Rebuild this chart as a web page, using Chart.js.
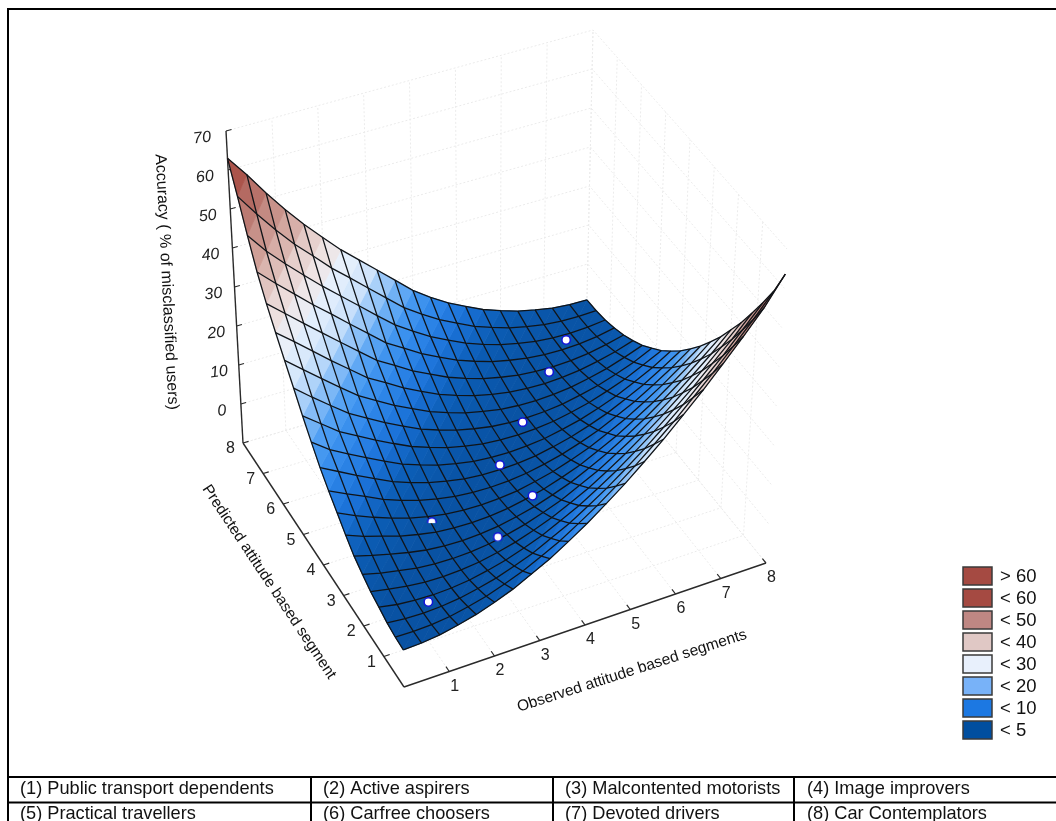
<!DOCTYPE html>
<html><head><meta charset="utf-8">
<style>html,body{margin:0;padding:0;background:#fff;overflow:hidden}canvas{display:block}</style>
<script src="https://cdn.jsdelivr.net/npm/chart.js@4"></script></head>
<body><canvas id="c" width="1056" height="821"></canvas>
<script>
// ---- data ----
const observedTicks = [1,2,3,4,5,6,7,8];
const predictedTicks = [1,2,3,4,5,6,7,8];
const accuracyTicks = [0,10,20,30,40,50,60,70];
const meshAxis = [0,0.4,0.8,1.2,1.6,2,2.4,2.8,3.2,3.6,4,4.4,4.8,5.2,5.6,6,6.4,6.8,7.2,7.6,8];
// accuracyRows[j][i]: accuracy at predicted = meshAxis[j], observed = meshAxis[i]
const accuracyRows = [
[-1.2,-1.0,-0.5,0.4,1.5,3.0,4.7,6.9,9.2,12.0,15.0,18.4,22.0,26.0,30.2,34.9,39.7,45.0,50.5,56.4,63.6],
[-1.0,-1.1,-0.9,-0.4,0.5,1.6,3.1,4.8,7.0,9.3,12.1,15.1,18.5,22.1,26.1,30.3,35.0,39.8,45.1,50.6,56.5],
[-0.5,-0.9,-1.0,-0.8,-0.3,0.6,1.7,3.2,4.9,7.1,9.4,12.2,15.2,18.6,22.2,26.2,30.4,35.1,39.9,45.2,50.7],
[0.4,-0.4,-0.8,-0.9,-0.7,-0.2,0.7,1.8,3.3,5.0,7.2,9.5,12.3,15.3,18.7,22.3,26.3,30.5,35.2,40.0,45.3],
[1.2,0.4,-0.3,-0.7,-0.8,-0.6,-0.1,0.8,1.9,3.4,5.1,7.3,9.6,12.4,15.4,18.8,22.4,26.4,30.6,35.3,40.1],
[2.5,1.4,0.6,-0.2,-0.6,-0.7,-0.5,0.0,0.9,2.0,3.5,5.2,7.4,9.7,12.5,15.5,18.9,22.5,26.5,30.7,35.4],
[4.0,2.8,1.7,0.7,-0.1,-0.5,-0.6,-0.4,0.1,1.0,2.1,3.6,5.3,7.5,9.8,12.6,15.6,19.0,22.6,26.6,30.8],
[6.2,4.5,3.2,1.8,0.8,0.0,-0.4,-0.5,-0.3,0.2,1.1,2.2,3.7,5.4,7.6,9.9,12.7,15.7,19.1,22.7,26.7],
[8.7,6.7,4.9,3.3,1.9,0.9,0.1,-0.3,-0.4,-0.2,0.3,1.2,2.3,3.8,5.5,7.7,10.0,12.8,15.8,19.2,22.8],
[11.2,9.1,7.1,5.0,3.4,2.0,1.0,0.2,-0.2,-0.3,-0.1,0.4,1.3,2.4,3.9,5.6,7.8,10.1,12.9,15.9,19.3],
[14.0,11.7,9.4,7.2,5.1,3.5,2.1,1.1,0.3,-0.1,-0.2,0.0,0.5,1.4,2.5,4.0,5.7,7.9,10.2,13.0,16.0],
[17.4,14.2,11.8,9.5,7.3,5.2,3.6,2.2,1.2,0.4,0.0,-0.1,0.1,0.6,1.5,2.6,4.1,5.8,8.0,10.3,13.1],
[21.0,17.7,14.4,12.0,9.6,7.4,5.3,3.7,2.3,1.3,0.5,0.1,0.0,0.2,0.7,1.6,2.7,4.2,5.9,8.1,10.4],
[25.0,21.4,18.0,14.7,12.2,9.7,7.5,5.4,3.8,2.4,1.4,0.6,0.2,0.1,0.3,0.8,1.7,2.8,4.3,6.0,8.2],
[29.0,25.4,21.8,18.3,14.9,12.3,9.8,7.6,5.5,3.9,2.5,1.5,0.7,0.3,0.2,0.4,0.9,1.8,2.9,4.4,6.1],
[33.1,29.5,25.8,22.1,18.6,15.1,12.6,9.9,7.7,5.6,4.0,2.6,1.6,0.8,0.4,0.3,0.5,1.0,1.9,3.0,4.5],
[37.5,33.7,29.9,26.2,22.5,18.9,15.3,12.7,10.0,7.8,5.7,4.1,2.7,1.7,0.9,0.5,0.4,0.6,1.1,2.0,3.1],
[42.6,38.4,34.4,30.4,26.7,22.9,19.2,15.5,12.8,10.1,7.9,5.8,4.2,2.8,1.8,1.0,0.6,0.5,0.7,1.2,2.1],
[49.0,43.7,39.2,35.0,30.9,27.1,23.3,19.5,15.8,12.9,10.2,8.0,5.9,4.3,2.9,1.9,1.1,0.7,0.6,0.8,1.3],
[56.1,50.3,44.9,40.0,35.7,31.3,27.5,23.6,19.8,16.0,13.0,10.3,8.1,6.0,4.4,3.0,2.0,1.2,0.8,0.7,0.9],
[63.0,57.5,51.5,46.0,40.9,36.3,31.8,27.9,24.0,20.1,16.2,13.1,10.4,8.2,6.1,4.5,3.1,2.1,1.3,0.9,0.8]
];
const pointObserved = [1,2,3,4,4.2,5,6.1,7];
const pointPredicted = [1,3,2,4,2.9,5,6,7];
const pointAccuracy = [-0.5,1,1,1,0.5,1.1,2.9,0.9];
const pointVisibleShare = [1,0.58,0.85,1,1,1,1,1];
const legendLabels = ['> 60','< 60','< 50','< 40','< 30','< 20','< 10','< 5'];
const legendColors = ['#a54a42','#a54a42','#bf8783','#e0c8c5','#e8f0fc','#78b2f8','#1c78e2','#004e9f'];
const segmentNames = [['(1) Public transport dependents','(2) Active aspirers','(3) Malcontented motorists','(4) Image improvers'],
                      ['(5) Practical travellers','(6) Carfree choosers','(7) Devoted drivers','(8) Car Contemplators']];
const titleZ = 'Accuracy ( % of misclassified users)';
const titleY = 'Predicted attitude based segment';
const titleX = 'Observed attitude based segments';

// ---- projection of the plot box onto the page ----
const floorBox = [[404,687],[766,563],[586,342],[243,443]]; // (0,0) (8,0) (8,8) (0,8)
const topBox   = [[398,350],[787,249],[593,30],[226,131]];
const Z0 = -10, Z1 = 70, XYMAX = 8;
function project(x,y,z){
  const u=x/XYMAX, v=y/XYMAX, w=(z-Z0)/(Z1-Z0);
  const bi=(q,k)=>q[0][k]*(1-u)*(1-v)+q[1][k]*u*(1-v)+q[2][k]*u*v+q[3][k]*(1-u)*v;
  return {x:bi(floorBox,0)*(1-w)+bi(topBox,0)*w, y:bi(floorBox,1)*(1-w)+bi(topBox,1)*w};
}
const colorStops = [[0,[9,82,163]],[4,[11,92,180]],[8,[27,114,216]],[12,[47,135,234]],[16,[74,156,242]],[20,[132,188,247]],[25,[207,228,251]],[30,[232,241,252]],[34,[239,228,228]],[38,[230,207,204]],[43,[213,170,163]],[50,[192,132,124]],[56,[176,98,90]],[63,[163,63,53]],[70,[154,42,32]]];
function colorOf(z){
  if(z<=colorStops[0][0]) return 'rgb('+colorStops[0][1].join(',')+')';
  for(let k=1;k<colorStops.length;k++){
    if(z<=colorStops[k][0]){
      const a=colorStops[k-1],b=colorStops[k],t=(z-a[0])/(b[0]-a[0]);
      return 'rgb('+a[1].map((c,n)=>Math.round(c+(b[1][n]-c)*t)).join(',')+')';
    }
  }
  return 'rgb(154,42,32)';
}

// ---- build layers back to front ----
const layers=[];
function line(pts,color,width,dash){
  layers.push({data:pts,showLine:true,borderColor:color,borderWidth:width,borderDash:dash||[],pointRadius:0,fill:false,tension:0});
}
const WALL='#ebebeb', WD=[2,2];
[-10,...accuracyTicks].forEach(z=>{
  line([project(0,8,z),project(8,8,z),project(8,0,z)],WALL,1,WD);
});
observedTicks.forEach(t=>{
  line([project(t,8,-10),project(t,8,70)],WALL,1,WD);
  line([project(t,0,-10),project(t,8,-10)],WALL,1,WD);
});
predictedTicks.forEach(t=>{
  line([project(8,t,-10),project(8,t,70)],WALL,1,WD);
  line([project(0,t,-10),project(8,t,-10)],WALL,1,WD);
});
// axes
const AX='#2a2a2a';
line([project(0,8,-10),project(0,8,70)],AX,1.4);
line([project(0,0,-10),project(8,0,-10)],AX,1.4);
line([project(0,0,-10),project(0,8,-10)],AX,1.4);
accuracyTicks.forEach(z=>line([project(0,8,z),project(0.12,8,z)],AX,1.2));
observedTicks.forEach(t=>line([project(t,0,-10),project(t,0.16,-10)],AX,1.2));
predictedTicks.forEach(t=>line([project(0,t,-10),project(0.13,t,-10)],AX,1.2));

// surface triangles, far cells first
const N=meshAxis.length-1, cells=[];
for(let j=0;j<N;j++)for(let i=0;i<N;i++)cells.push([i,j]);
cells.sort((a,b)=>(b[0]+b[1])-(a[0]+a[1]));
function node(i,j){return {p:project(meshAxis[i],meshAxis[j],accuracyRows[j][i]),z:accuracyRows[j][i]};}
function tri(a,b,c){
  const col=colorOf((a.z+b.z+c.z)/3);
  layers.push({data:[a.p,b.p,c.p,a.p],showLine:true,borderColor:col,borderWidth:0.8,backgroundColor:col,pointRadius:0,fill:'shape',tension:0});
}
cells.forEach(([i,j])=>{
  const a=node(i,j),b=node(i+1,j),c=node(i+1,j+1),d=node(i,j+1);
  tri(a,b,c); tri(a,c,d);
});
// mesh lines
const MESH='#101418';
for(let j=0;j<=N;j++) line(meshAxis.map((_,i)=>node(i,j).p),MESH,1.3);
for(let i=0;i<=N;i++) line(meshAxis.map((_,j)=>node(i,j).p),MESH,1.3);

// points: those partly sunk in the surface use a clipped marker
function cutMarker(share){
  const s=12,c=document.createElement('canvas');c.width=s;c.height=s;
  const g=c.getContext('2d');
  g.beginPath();g.rect(0,0,s,s*share);g.clip();
  g.beginPath();g.arc(s/2,s/2,4.2,0,Math.PI*2);g.fillStyle='#fff';g.fill();
  g.lineWidth=1.5;g.strokeStyle='#1414d8';g.stroke();
  return c;
}
pointObserved.forEach((_,n)=>{
  const share=pointVisibleShare[n];
  layers.push({data:[project(pointObserved[n],pointPredicted[n],pointAccuracy[n])],showLine:false,
    pointStyle: share<1?cutMarker(share):'circle',
    pointRadius:4.2,pointBorderWidth:1.5,pointBorderColor:'#1414d8',pointBackgroundColor:'#ffffff'});
});

// ---- text, legend, frame ----
function rotText(ctx,s,x,y,ang,font,col){
  ctx.save();ctx.translate(x,y);ctx.rotate(ang);ctx.font=font;ctx.fillStyle=col;ctx.textAlign='center';ctx.textBaseline='middle';ctx.fillText(s,0,0);ctx.restore();
}
const FF='"Liberation Sans",Arial,sans-serif';
const decor={id:'decor',afterDraw(chart){
  const ctx=chart.ctx, sx=chart.scales.x, sy=chart.scales.y;
  const P=(x,y,z)=>{const q=project(x,y,z);return [sx.getPixelForValue(q.x),sy.getPixelForValue(q.y)];};
  ctx.save();
  accuracyTicks.forEach(z=>{const q=P(0,8,z);rotText(ctx,String(z),q[0]-19-z*0.07,q[1]+7,-0.12,'italic 16px '+FF,'#222');});
  observedTicks.forEach(t=>{const q=P(t,0,-10);rotText(ctx,String(t),q[0]+5.5,q[1]+15,0,'16px '+FF,'#222');});
  predictedTicks.forEach(t=>{const q=P(0,t,-10);rotText(ctx,String(t),q[0]-12.5,q[1]+6,0,'16px '+FF,'#222');});
  rotText(ctx,titleZ,166.5,282,1.52,'16px '+FF,'#111');
  rotText(ctx,titleY,269,582,0.985,'15.4px '+FF,'#111');
  rotText(ctx,titleX,632,671,-0.311,'15.5px '+FF,'#111');
  // legend
  legendLabels.forEach((s,k)=>{
    const y=567+k*22;
    ctx.fillStyle=legendColors[k];ctx.fillRect(963,y,29,18);
    ctx.strokeStyle='#3a3a3a';ctx.lineWidth=1.5;ctx.strokeRect(963,y,29,18);
    ctx.fillStyle='#111';ctx.font='18.5px '+FF;ctx.textAlign='left';ctx.textBaseline='middle';ctx.fillText(s,1000,y+9.5);
  });
  // frame and table
  ctx.strokeStyle='#000';ctx.lineWidth=2;
  ctx.beginPath();
  ctx.moveTo(1056,9);ctx.lineTo(8,9);ctx.lineTo(8,821);
  ctx.moveTo(8,777);ctx.lineTo(1056,777);
  ctx.moveTo(8,802.5);ctx.lineTo(1056,802.5);
  [311,553,794].forEach(x=>{ctx.moveTo(x,777);ctx.lineTo(x,821);});
  ctx.stroke();
  const cols=[20,323,565,807], bases=[794,819];
  ctx.fillStyle='#111';ctx.font='18.2px '+FF;ctx.textAlign='left';ctx.textBaseline='alphabetic';
  segmentNames.forEach((r,a)=>r.forEach((s,b)=>ctx.fillText(s,cols[b],bases[a])));
  ctx.restore();
}};

new Chart(document.getElementById('c'),{
  type:'scatter',
  data:{datasets:layers.slice().reverse()},
  options:{
    responsive:false,animation:false,events:[],
    layout:{padding:0,autoPadding:false},
    plugins:{legend:{display:false},tooltip:{enabled:false},title:{display:false}},
    scales:{
      x:{type:'linear',display:false,min:0,max:1056},
      y:{type:'linear',display:false,min:0,max:821,reverse:true}
    }
  },
  plugins:[decor]
});
</script></body></html>
